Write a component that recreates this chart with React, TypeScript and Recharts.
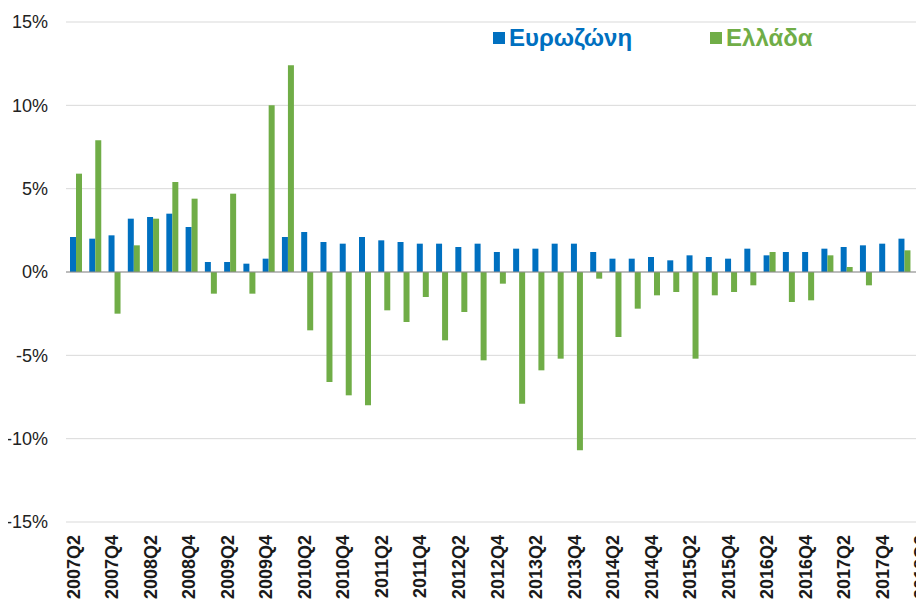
import React from 'react';
import { BarChart, Bar, XAxis, YAxis, CartesianGrid, ReferenceLine, Legend } from 'recharts';

const quarters = [
  '2007Q2','2007Q3','2007Q4','2008Q1','2008Q2','2008Q3','2008Q4','2009Q1','2009Q2','2009Q3','2009Q4',
  '2010Q1','2010Q2','2010Q3','2010Q4','2011Q1','2011Q2','2011Q3','2011Q4','2012Q1','2012Q2','2012Q3','2012Q4',
  '2013Q1','2013Q2','2013Q3','2013Q4','2014Q1','2014Q2','2014Q3','2014Q4','2015Q1','2015Q2','2015Q3','2015Q4',
  '2016Q1','2016Q2','2016Q3','2016Q4','2017Q1','2017Q2','2017Q3','2017Q4','2018Q1','2018Q2',
];

const eurozone = [
  2.1, 2.0, 2.2, 3.2, 3.3, 3.5, 2.7, 0.6, 0.6, 0.5, 0.8,
  2.1, 2.4, 1.8, 1.7, 2.1, 1.9, 1.8, 1.7, 1.7, 1.5, 1.7, 1.2,
  1.4, 1.4, 1.7, 1.7, 1.2, 0.8, 0.8, 0.9, 0.7, 1.0, 0.9, 0.8,
  1.4, 1.0, 1.2, 1.2, 1.4, 1.5, 1.6, 1.7, 2.0, 2.4,
];

const greece = [
  5.9, 7.9, -2.5, 1.6, 3.2, 5.4, 4.4, -1.3, 4.7, -1.3, 10.0,
  12.4, -3.5, -6.6, -7.4, -8.0, -2.3, -3.0, -1.5, -4.1, -2.4, -5.3, -0.7,
  -7.9, -5.9, -5.2, -10.7, -0.4, -3.9, -2.2, -1.4, -1.2, -5.2, -1.4, -1.2,
  -0.8, 1.2, -1.8, -1.7, 1.0, 0.3, -0.8, 0, 1.3, 1.2,
];

const yTicks = [-15, -10, -5, 0, 5, 10, 15];

const seriesNames = { euro: 'Ευρωζώνη', greece: 'Ελλάδα' };
const seriesOrder = ['euro', 'greece'];
const BLUE = '#0070C0';
const GREEN = '#70AD47';

const data = quarters.map((q, i) => ({ q, euro: eurozone[i], greece: greece[i] }));

const FONT = '"Liberation Sans", Arial, sans-serif';

const XTick = (props: any) => {
  const { x, y, payload } = props;
  return (
    <text
      x={x - 2}
      y={y}
      transform={`rotate(-90 ${x - 2} ${y})`}
      textAnchor="end"
      dominantBaseline="central"
      fontFamily={FONT}
      fontSize={18}
      fontWeight="bold"
      fill="#1a1a1a"
    >
      {payload.value}
    </text>
  );
};

const LegendContent = (props: any) => {
  const payload = [...(props.payload || [])].sort(
    (a: any, b: any) => seriesOrder.indexOf(a.dataKey) - seriesOrder.indexOf(b.dataKey)
  );
  return (
    <div style={{ display: 'flex', alignItems: 'center', fontFamily: FONT, fontWeight: 'bold', fontSize: 24 }}>
      {payload.map((p: any, i: number) => (
        <div key={i} style={{ display: 'flex', alignItems: 'center', marginRight: i === 0 ? 78 : 0 }}>
          <span style={{ display: 'inline-block', width: 12, height: 12, background: p.color, marginRight: 4 }} />
          <span style={{ color: p.color, lineHeight: '28px' }}>{p.value}</span>
        </div>
      ))}
    </div>
  );
};

export default function App() {
  return (
    <div style={{ margin: -8, width: 924, height: 609, overflow: 'hidden', position: 'relative', background: '#fff' }}>
      <BarChart
        width={940}
        height={640}
        data={data}
        margin={{ top: 22, right: 7, left: 0, bottom: 0 }}
        barGap={0}
      >
        <CartesianGrid horizontal vertical={false} stroke="#D9D9D9" />
        <XAxis
          dataKey="q"
          interval={1}
          axisLine={false}
          tickLine={false}
          tickSize={0}
          tickMargin={13}
          height={118}
          tick={<XTick />}
        />
        <YAxis
          width={66}
          domain={[-15, 15]}
          ticks={yTicks}
          axisLine={false}
          tickLine={false}
          tickSize={0}
          tickMargin={18}
          tickFormatter={(v: number) => `${v}%`}
          tick={{ fontFamily: FONT, fontSize: 18, fill: '#222' }}
        />
        <Legend
          layout="horizontal"
          verticalAlign="middle"
          align="center"
          content={<LegendContent />}
          wrapperStyle={{ position: 'absolute', top: 24, left: 493, width: 'auto', height: 'auto' }}
        />
        <ReferenceLine y={0} stroke="#8C8C8C" strokeWidth={1.2} />
        <Bar dataKey="euro" name={seriesNames.euro} fill={BLUE} barSize={6} isAnimationActive={false} />
        <Bar dataKey="greece" name={seriesNames.greece} fill={GREEN} barSize={6} isAnimationActive={false} />
      </BarChart>
    </div>
  );
}
